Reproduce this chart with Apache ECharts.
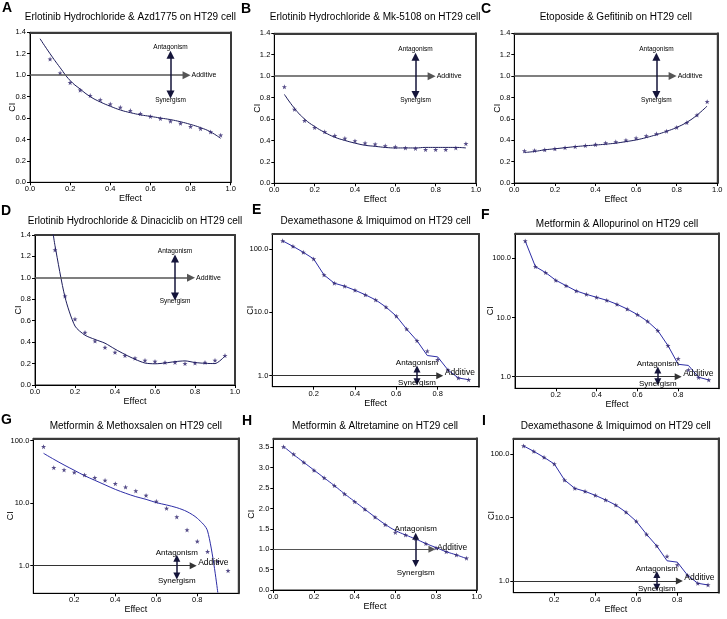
<!DOCTYPE html>
<html>
<head>
<meta charset="utf-8">
<script src="https://cdn.jsdelivr.net/npm/echarts@6/dist/echarts.min.js"></script>
<style>
html, body { margin: 0; padding: 0; background: #fff; }
#chart { width: 727px; height: 619px; }
</style>
</head>
<body>
<div id="chart"></div>
<script>
// effect levels (fraction affected)
const effects = [0.05, 0.1, 0.15, 0.2, 0.25, 0.3, 0.35, 0.4, 0.45, 0.5, 0.55, 0.6, 0.65, 0.7, 0.75, 0.8, 0.85, 0.9, 0.95]
const effectsFrom10 = effects.slice(1)

// A: Erlotinib Hydrochloride & Azd1775
const ptsA = [1.15, 1.02, 0.93, 0.86, 0.81, 0.77, 0.73, 0.70, 0.67, 0.64, 0.615, 0.595, 0.57, 0.55, 0.52, 0.50, 0.47, 0.44]
const fitA = [1.34, 1.20, 1.07, 0.95, 0.87, 0.80, 0.75, 0.71, 0.675, 0.65, 0.63, 0.615, 0.60, 0.585, 0.565, 0.54, 0.51, 0.47, 0.41]
// B: Erlotinib Hydrochloride & Mk-5108
const ptsB = [0.90, 0.69, 0.585, 0.52, 0.48, 0.445, 0.42, 0.395, 0.375, 0.365, 0.35, 0.34, 0.33, 0.325, 0.315, 0.315, 0.315, 0.33, 0.37]
const fitB = [0.83, 0.70, 0.60, 0.53, 0.475, 0.43, 0.40, 0.375, 0.355, 0.345, 0.335, 0.33, 0.33, 0.33, 0.335, 0.335, 0.335, 0.335, 0.33]
// C: Etoposide & Gefitinib
const ptsC = [0.30, 0.305, 0.31, 0.32, 0.33, 0.34, 0.35, 0.36, 0.375, 0.385, 0.40, 0.42, 0.44, 0.46, 0.485, 0.52, 0.565, 0.635, 0.76]
const fitC = [0.285, 0.295, 0.31, 0.32, 0.33, 0.34, 0.348, 0.355, 0.363, 0.373, 0.387, 0.403, 0.425, 0.452, 0.483, 0.52, 0.568, 0.635, 0.72]
// D: Erlotinib Hydrochloride & Dinaciclib
const ptsD = [1.26, 0.83, 0.615, 0.49, 0.41, 0.35, 0.305, 0.275, 0.25, 0.23, 0.22, 0.21, 0.21, 0.20, 0.205, 0.21, 0.23, 0.275]
const fitEffD = [0.09].concat(effectsFrom10)
const fitD = [1.42, 1.30, 0.82, 0.55, 0.465, 0.425, 0.39, 0.335, 0.285, 0.24, 0.205, 0.198, 0.205, 0.218, 0.225, 0.21, 0.202, 0.20, 0.27]
// E (and I): Dexamethasone & Imiquimod
const ptsE = [134, 110, 88.5, 69.6, 38.9, 28.8, 25.8, 22.3, 18.9, 15.7, 12.1, 8.7, 5.43, 3.56, 2.45, 1.79, 1.23, 0.92, 0.865]
const fitE = [134, 110, 88.5, 69.6, 38.9, 28.8, 25.8, 22.3, 18.9, 15.7, 12.1, 8.7, 5.43, 3.56, 2.08, 1.98, 1.23, 0.92, 0.865]
// F: Metformin & Allopurinol
const ptsF = [196, 72.3, 57.3, 42.5, 34.5, 28.1, 24.6, 21.9, 19.5, 16.7, 13.9, 11.2, 8.6, 6.0, 3.34, 2.01, 1.30, 0.97, 0.88]
const fitF = [196, 72.3, 57.3, 42.5, 34.5, 28.1, 24.6, 21.9, 19.5, 16.7, 13.9, 11.2, 8.6, 6.0, 3.34, 1.62, 1.55, 0.98, 0.88]
// G: Metformin & Methoxsalen
const ptsG = [80.2, 37, 34, 31.1, 28.2, 25.6, 23.2, 20.5, 18.1, 15.7, 13.3, 10.7, 8.27, 6.01, 3.72, 2.45, 1.68, 1.16, 0.83]
const fitEffG = effects.slice(0, 18)
const fitG = [62.7, 50.3, 40.8, 33.5, 27.5, 23.2, 19.6, 16.6, 14.4, 12.7, 11.5, 10.2, 9.35, 8.47, 7.31, 5.72, 3.59, 0.37]
// H: Metformin & Altretamine
const ptsH = [3.51, 3.33, 3.13, 2.935, 2.75, 2.56, 2.355, 2.165, 1.98, 1.785, 1.60, 1.41, 1.35, 1.26, 1.14, 1.03, 0.94, 0.86, 0.78]
const fitH = [3.52, 3.32, 3.13, 2.94, 2.75, 2.56, 2.36, 2.17, 1.98, 1.79, 1.61, 1.46, 1.35, 1.25, 1.14, 1.04, 0.94, 0.86, 0.77]

// tick labels
const xTicksFull = [0, 0.2, 0.4, 0.6, 0.8, 1.0]
const xTicksInner = [0.2, 0.4, 0.6, 0.8]
const yTicks14 = [0, 0.2, 0.4, 0.6, 0.8, 1.0, 1.2, 1.4]
const yTicks35 = [0, 0.5, 1.0, 1.5, 2.0, 2.5, 3.0, 3.5]
const yTicksLog = [1, 10, 100]

const FONT = '"Liberation Sans", Arial, sans-serif'
const STAR = 'path://M0,-10L2.35,-3.24L9.51,-3.09L3.8,1.24L5.88,8.09L0,4L-5.88,8.09L-3.8,1.24L-9.51,-3.09L-2.35,-3.24Z'

const linear = { log: false, xTicks: xTicksFull, lineColor: '#1d1d5c', hColor: '#555', hWidth: 1.5, head: 8, ann: 6.5, addOffset: 0, smooth: 0.5 }
const logish = { log: true, xTicks: xTicksInner, lineColor: '#2d2da6', hColor: '#333', hWidth: 1, head: 7, ann: 8, addOffset: -3, smooth: false }

const panels = [
    Object.assign({}, linear, { letter: 'A', title: 'Erlotinib Hydrochloride & Azd1775 on HT29 cell', box: [30, 32.3, 200.7, 150], letterAt: [2, 1], titleY: 17,
        yMin: 0, yMax: 1.4, yTicks: yTicks14, pts: [effectsFrom10, ptsA], fit: [effects, fitA], arrow: [1.19, 0.82], ant: 1.26, syn: 0.77, hEnd: 0.78, yGap: 13 }),
    Object.assign({}, linear, { letter: 'B', title: 'Erlotinib Hydrochloride & Mk-5108 on HT29 cell', box: [274.3, 33.3, 201.7, 150], letterAt: [241, 2], titleY: 17.7,
        yMin: 0, yMax: 1.4, yTicks: yTicks14, pts: [effects, ptsB], fit: [effects, fitB], arrow: [1.18, 0.825], ant: 1.25, syn: 0.775, hEnd: 0.78, yGap: 12 }),
    Object.assign({}, linear, { letter: 'C', title: 'Etoposide & Gefitinib on HT29 cell', box: [514.3, 33.3, 203, 149.7], letterAt: [481, 2], titleY: 17.7,
        yMin: 0, yMax: 1.4, yTicks: yTicks14, pts: [effects, ptsC], fit: [effects, fitC], arrow: [1.18, 0.823], ant: 1.25, syn: 0.776, hEnd: 0.78, yGap: 12 }),
    Object.assign({}, linear, { letter: 'D', title: 'Erlotinib Hydrochloride & Dinaciclib on HT29 cell', box: [35, 235, 200, 150], letterAt: [1, 204], titleY: 221.7,
        yMin: 0, yMax: 1.4, yTicks: yTicks14, pts: [effectsFrom10, ptsD], fit: [fitEffD, fitD], arrow: [1.18, 0.825], ant: 1.25, syn: 0.778, hEnd: 0.78, yGap: 12, smooth: 0.25 }),
    Object.assign({}, logish, { letter: 'E', title: 'Dexamethasone & Imiquimod on HT29 cell', box: [272.3, 234, 206.7, 152.7], letterAt: [252, 203], titleY: 221.7,
        yMin: 0.67, yMax: 172, yTicks: yTicksLog, pts: [effects, ptsE], fit: [effects, fitE], arrow: [1.27, 0.80], ant: 1.57, syn: 0.76, hEnd: 0.81, yGap: 17 }),
    Object.assign({}, logish, { letter: 'F', title: 'Metformin & Allopurinol on HT29 cell', box: [515, 233.3, 204, 155], letterAt: [481, 208], titleY: 224,
        yMin: 0.637, yMax: 264, yTicks: yTicksLog, pts: [effects, ptsF], fit: [effects, fitF], arrow: [1.30, 0.82], ant: 1.62, syn: 0.77, hEnd: 0.80, yGap: 20 }),
    Object.assign({}, logish, { letter: 'G', title: 'Metformin & Methoxsalen on HT29 cell', box: [33.3, 438.3, 205, 155], letterAt: [1, 413], titleY: 426.7,
        yMin: 0.361, yMax: 109, yTicks: yTicksLog, pts: [effects, ptsG], fit: [fitEffG, fitG], arrow: [1.31, 0.68], ant: 1.61, syn: 0.57, hEnd: 0.78, yGap: 18, smooth: 0.3 }),
    Object.assign({}, linear, { letter: 'H', title: 'Metformin & Altretamine on HT29 cell', box: [273.3, 438.3, 203.4, 151.7], letterAt: [242, 414], titleY: 426.7,
        yMin: 0, yMax: 3.72, yTicks: yTicks35, pts: [effects, ptsH], fit: [effects, fitH], arrow: [1.32, 0.65], ant: 1.50, syn: 0.42, hEnd: 0.78, yGap: 17,
        lineColor: '#2d2da6', hColor: '#555', hWidth: 1, head: 7, ann: 8, addOffset: -2 }),
    // I repeats the Dexamethasone & Imiquimod data of panel E
    Object.assign({}, logish, { letter: 'I', title: 'Dexamethasone & Imiquimod on HT29 cell', box: [513.3, 438.3, 205, 154.4], letterAt: [482, 414], titleY: 426.7,
        yMin: 0.654, yMax: 176.6, yTicks: yTicksLog, pts: [effects, ptsE], fit: [effects, fitE], arrow: [1.27, 0.80], ant: 1.57, syn: 0.76, hEnd: 0.81, yGap: 17 })
]

const pairs = (xs, ys) => ys.map((y, k) => [xs[k], y])
const labelText = { fontFamily: FONT, color: '#000' }

const option = { animation: false, backgroundColor: '#fff', grid: [], xAxis: [], yAxis: [], series: [], graphic: [] }

panels.forEach((p, i) => {
    const [l, t, w, h] = p.box
    option.grid.push({ left: l, top: t, width: w, height: h, show: true, borderColor: '#222', borderWidth: 1 })
    option.graphic.push({ type: 'text', left: p.letterAt[0], top: p.letterAt[1], silent: true,
        style: { text: p.letter, font: 'bold 14px ' + FONT, fill: '#000' } })
    option.graphic.push({ type: 'text', x: l + w / 2, y: p.titleY, silent: true,
        style: { text: p.title, font: '10px ' + FONT, fill: '#000', textAlign: 'center', textVerticalAlign: 'middle' } })

    const xi = option.xAxis.length
    const yi = option.yAxis.length
    option.xAxis.push({
        gridIndex: i, type: 'value', min: 0, max: 1,
        name: 'Effect', nameLocation: 'middle', nameGap: 12, nameMoveOverlap: false,
        nameTextStyle: Object.assign({ fontSize: 9 }, labelText),
        axisLine: { show: true, onZero: false, lineStyle: { color: '#000', width: 1 } },
        axisTick: { show: true, length: 3, customValues: p.xTicks, lineStyle: { color: '#000' } },
        axisLabel: Object.assign({ customValues: p.xTicks, formatter: v => v.toFixed(1), fontSize: 7.5, margin: 3 }, labelText),
        splitLine: { show: false }
    })
    option.xAxis.push({
        gridIndex: i, type: 'value', position: 'top', min: 0, max: 1,
        axisLine: { show: true, onZero: false, lineStyle: { color: '#3a3a3a', width: 2 } },
        axisTick: { show: false }, axisLabel: { show: false }, splitLine: { show: false }
    })
    option.yAxis.push({
        gridIndex: i, type: p.log ? 'log' : 'value', logBase: 10, min: p.yMin, max: p.yMax,
        name: 'CI', nameLocation: 'middle', nameGap: p.yGap, nameRotate: 90, nameMoveOverlap: false,
        nameTextStyle: Object.assign({ fontSize: 9 }, labelText),
        axisLine: { show: true, onZero: false, lineStyle: { color: '#000', width: 1 } },
        axisTick: { show: true, length: 3, customValues: p.yTicks, lineStyle: { color: '#000' } },
        axisLabel: Object.assign({ customValues: p.yTicks, formatter: v => Number(v).toFixed(1), fontSize: 7.5, margin: 4 }, labelText),
        splitLine: { show: false }, minorTick: { show: false }
    })
    option.yAxis.push({
        gridIndex: i, type: 'value', position: 'right', min: 0, max: 1,
        axisLine: { show: true, onZero: false, lineStyle: { color: '#3a3a3a', width: 2 } },
        axisTick: { show: false }, axisLabel: { show: false }, splitLine: { show: false }
    })

    option.series.push({
        type: 'line', xAxisIndex: xi, yAxisIndex: yi, silent: true, z: 3,
        data: pairs(p.fit[0], p.fit[1]), symbol: 'none', showSymbol: false, smooth: p.smooth,
        lineStyle: { color: p.lineColor, width: 1 },
        markLine: {
            silent: true, animation: false, symbol: 'none', label: { show: false }, precision: 4,
            data: [
                [{ coord: [0, 1], symbol: 'none' },
                 { coord: [p.hEnd, 1], symbol: 'triangle', symbolSize: p.head,
                   lineStyle: { color: p.hColor, width: p.hWidth, type: 'solid' },
                   label: Object.assign({ show: true, position: 'end', formatter: 'Additive', distance: 5, fontSize: p.ann + 0.5, offset: [0, p.addOffset] }, labelText) }],
                [{ coord: [0.7, p.arrow[0]], symbol: 'triangle', symbolSize: p.head },
                 { coord: [0.7, p.arrow[1]], symbol: 'triangle', symbolSize: p.head,
                   lineStyle: { color: '#14143a', width: 1.5, type: 'solid' } }]
            ]
        },
        markPoint: {
            silent: true, animation: false, symbol: 'circle', symbolSize: 1,
            itemStyle: { color: 'rgba(0,0,0,0)' },
            label: Object.assign({ show: true, position: 'inside', formatter: '{b}', fontSize: p.ann }, labelText),
            data: [{ name: 'Antagonism', coord: [0.7, p.ant] }, { name: 'Synergism', coord: [0.7, p.syn] }]
        }
    })
    option.series.push({
        type: 'scatter', xAxisIndex: xi, yAxisIndex: yi, silent: true, z: 4,
        data: pairs(p.pts[0], p.pts[1]), symbol: STAR, symbolSize: 5,
        itemStyle: { color: '#2a1f6a' }
    })
})

const chart = echarts.init(document.getElementById('chart'), null, { renderer: 'canvas' })
chart.setOption(option)
</script>
</body>
</html>
